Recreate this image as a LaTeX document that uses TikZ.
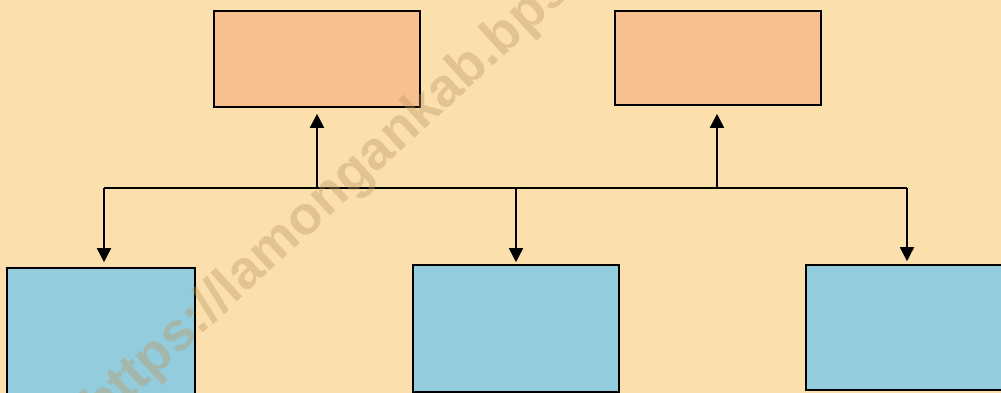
\documentclass[tikz,border=0pt]{standalone}
\usepackage{fontspec}
\newfontfamily\wmfont{Liberation Sans}
\usetikzlibrary{arrows.meta}
\definecolor{bgcol}{RGB}{251,224,174}
\definecolor{orangebox}{RGB}{249,192,143}
\definecolor{bluebox}{RGB}{147,204,220}
\definecolor{wmcol}{RGB}{190,150,95}
\tikzset{
  topbox/.style={draw=black, line width=1.6pt, fill=orangebox, inner sep=0pt},
  botbox/.style={draw=black, line width=1.6pt, fill=bluebox, inner sep=0pt},
  conn/.style={draw=black, line width=1.6pt},
  arr/.style={conn, -{Triangle[length=14pt,width=14pt]}},
}
\begin{document}
\begin{tikzpicture}[x=1pt,y=1pt]
\useasboundingbox (0,0) rectangle (1001,393);
\clip (0,0) rectangle (1001,393);
\fill[bgcol] (0,0) rectangle (1001,393);
% boxes
\node[topbox, minimum width=206pt, minimum height=96pt] (tl) at (317,334) {};
\node[topbox, minimum width=206pt, minimum height=94pt] (tr) at (718,335) {};
\node[botbox, minimum width=188pt, minimum height=135pt] (bl) at (101,57.5) {};
\node[botbox, minimum width=206pt, minimum height=127pt] (bm) at (516,64.5) {};
\node[botbox, minimum width=204pt, minimum height=125pt] (br) at (908,65.5) {};
% bus
\coordinate (b1) at (104,205);
\coordinate (b2) at (317,205);
\coordinate (b3) at (516,205);
\coordinate (b4) at (717,205);
\coordinate (b5) at (907,205);
\draw[conn] (b1) -- (b5);
\draw[arr, shorten >=5pt] (b1) -- (b1 |- bl.north);
\draw[arr, shorten >=2pt] (b3) -- (b3 |- bm.north);
\draw[arr, shorten >=3pt] (b5) -- (b5 |- br.north);
\draw[arr, shorten >=6pt] (b2) -- (b2 |- tl.south);
\draw[arr, shorten >=8pt] (b4) -- (b4 |- tr.south);
% watermark
\node[rotate=42.6, anchor=base west, inner sep=0pt, text=wmcol, opacity=0.38,
  font=\wmfont\bfseries\fontsize{54}{54}\selectfont] (wm) at (102,-33) {https://lamongankab.bps.go.id};
\end{tikzpicture}
\end{document}
